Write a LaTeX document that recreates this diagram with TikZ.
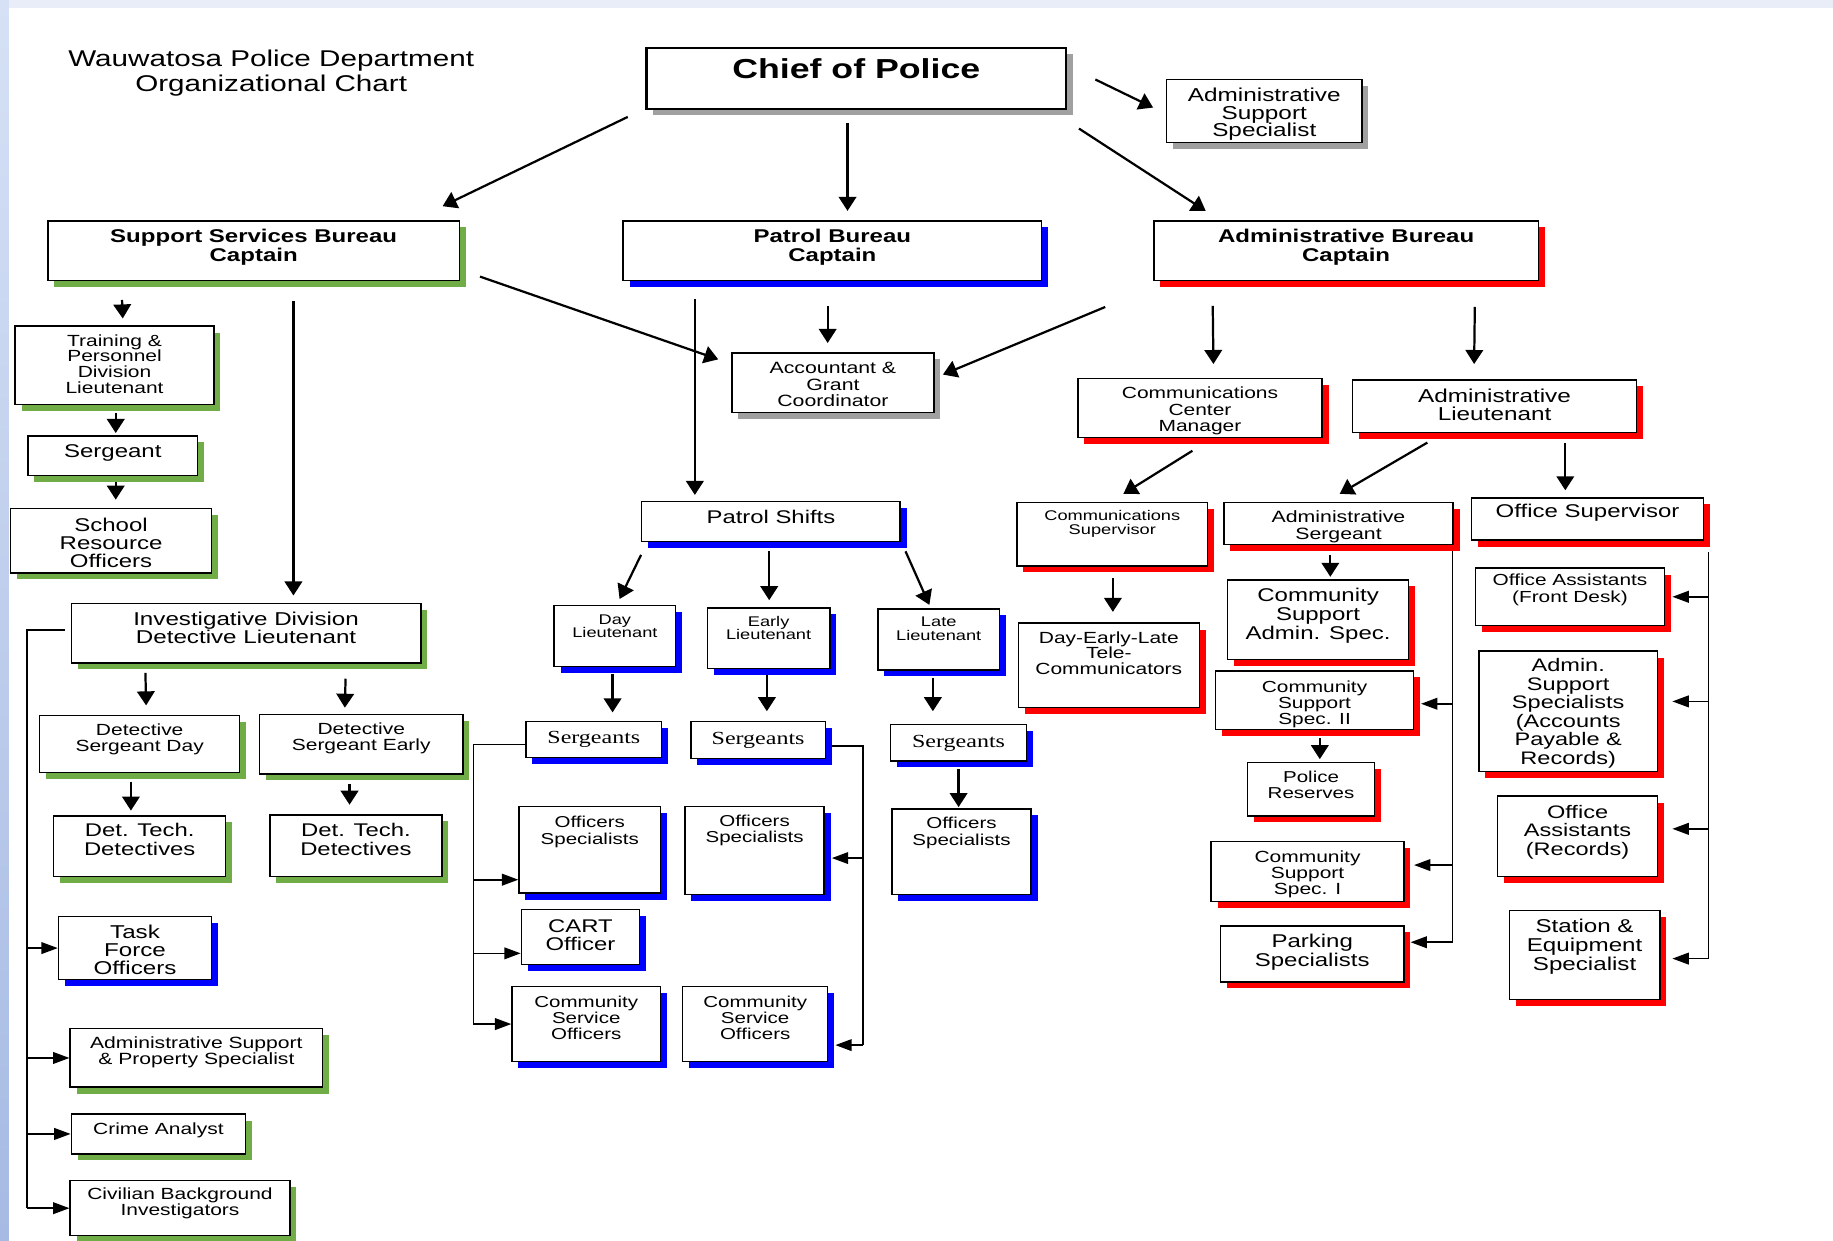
\documentclass[tikz,border=0pt]{standalone}
\usepackage{fontspec}
\setmainfont{Liberation Sans}[FakeStretch=1.3]
\newfontfamily\serw{Liberation Serif}[FakeStretch=1.3]
\usetikzlibrary{arrows.meta,shadows}
\definecolor{shg}{RGB}{112,173,71}
\definecolor{shb}{RGB}{0,0,255}
\definecolor{shr}{RGB}{255,0,0}
\definecolor{shk}{RGB}{160,160,160}
\definecolor{bgtop}{RGB}{232,237,247}
\definecolor{bgla}{RGB}{214,225,245}
\definecolor{bglb}{RGB}{166,186,227}
\tikzset{
 bx/.style={draw=black, line width=1.2pt, fill=white, inner sep=0pt,
   drop shadow={shadow xshift=5.5pt, shadow yshift=-5.5pt, opacity=1, fill=#1}},
 tx/.style={inner sep=0pt, align=center, anchor=north},
 arr/.style={line width=1.9pt, -{Triangle[length=12pt,width=15pt]}},
 barr/.style={line width=1.4pt, -{Triangle[length=14pt,width=10pt]}},
 bus/.style={line width=1.4pt},
}
\newcommand\ob[9]{%
 \node[bx=#6, minimum width={(#4)-(#2)}, minimum height={(#5)-(#3)}] (#1) at ({((#2)+(#4))/2},{((#3)+(#5))/2}) {};
 \node[tx, font=\fontsize#7\selectfont] (#1t) at ({((#2)+(#4))/2},#8) {#9};}
\begin{document}
\begin{tikzpicture}[x=1pt,y=-1pt]
\useasboundingbox (0,0) rectangle (1568,1061);
\fill[white] (0,0) rectangle (1568,1061);
\fill[bgtop] (0,0) rectangle (1568,7);
\shade[top color=bgla, bottom color=bglb] (0,0) rectangle (7.5,1061);

\node[tx, font=\fontsize{19.5}{21}\selectfont] (title) at (232,42.8) {Wauwatosa Police Department\\Organizational Chart};

\node[bx=shk, line width=2pt, minimum width=359, minimum height=52] (chief) at (732.5,67) {};
\node[tx, font=\fontsize{23.5}{24}\selectfont\bfseries] (chieft) at (732.5,50.3) {Chief of Police};

\ob{adss}{998}{68}{1165}{122}{shk}{{16}{15}}{75.1}{Administrative\\Support\\Specialist}
\ob{ssb}{41}{189}{393}{240}{shg}{{15.8}{16}\bfseries}{196.2}{Support Services Bureau\\Captain}
\ob{pb}{533}{189}{891}{240}{shb}{{15.8}{16}\bfseries}{196.2}{Patrol Bureau\\Captain}
\ob{ab}{987}{189}{1316}{240}{shr}{{15.8}{16}\bfseries}{196.2}{Administrative Bureau\\Captain}
\ob{train}{13}{279}{183}{346}{shg}{{13.8}{13.5}}{285.9}{Training \&\\Personnel\\Division\\Lieutenant}
\ob{sgt}{24}{373}{169}{407}{shg}{{15.8}{16}}{380.2}{Sergeant}
\ob{sro}{9}{435}{181}{490}{shg}{{15.8}{15.5}}{443.2}{School\\Resource\\Officers}
\ob{acct}{626}{302}{799}{353}{shk}{{14}{14}}{309.8}{Accountant \&\\Grant\\Coordinator}
\ob{ccm}{922}{324}{1131}{374}{shr}{{13.8}{14}}{330.9}{Communications\\Center\\Manager}
\ob{alt}{1157}{325}{1400}{370}{shr}{{16}{16}}{332.1}{Administrative\\Lieutenant}
\ob{ps}{549}{429}{770}{463}{shb}{{15.7}{16}}{436.2}{Patrol Shifts}
\ob{csup}{870}{430}{1033}{484}{shr}{{12}{12}}{436.6}{Communications\\Supervisor}
\ob{asgt}{1047}{430}{1243}{466}{shr}{{14}{14}}{436.8}{Administrative\\Sergeant}
\ob{osup}{1259}{426}{1457}{462}{shr}{{15.8}{16}}{431.2}{Office Supervisor}
\ob{inv}{61}{516}{360}{567}{shg}{{15.9}{16}}{523.1}{Investigative Division\\Detective Lieutenant}
\ob{dlt}{474}{518}{578}{570}{shb}{{12}{11.5}}{525.6}{Day\\Lieutenant}
\ob{elt}{605}{520}{710}{572}{shb}{{12}{11.5}}{526.6}{Early\\Lieutenant}
\ob{llt}{751}{521}{855}{573}{shb}{{12}{11.5}}{527.6}{Late\\Lieutenant}
\ob{del}{871}{533}{1026}{605}{shr}{{13.8}{13.5}}{539.9}{Day-Early-Late\\Tele-\\Communicators}
\ob{csas}{1050}{496}{1205}{564}{shr}{{15.8}{16}}{503.2}{Community\\Support\\Admin. Spec.}
\ob{oafd}{1262}{486}{1424}{535}{shr}{{13.7}{14}}{490.9}{Office Assistants\\(Front Desk)}
\ob{dsd}{34}{612}{205}{661}{shg}{{13.8}{14}}{618.9}{Detective\\Sergeant Day}
\ob{dse}{222}{611}{396}{662}{shg}{{13.8}{14}}{617.9}{Detective\\Sergeant Early}
\ob{sgd}{450}{617}{566}{648}{shb}{{15.8}{16}\serw}{625.5}{Sergeants}
\ob{sge}{591}{617}{706}{649}{shb}{{15.8}{16}\serw}{626.5}{Sergeants}
\ob{sgl}{762}{620}{878}{651}{shb}{{15.8}{16}\serw}{628.5}{Sergeants}
\ob{css2}{1040}{574}{1209}{624}{shr}{{13.7}{14}}{581.9}{Community\\Support\\Spec. II}
\ob{ass}{1265}{557}{1418}{660}{shr}{{15.5}{15.8}}{563.3}{Admin.\\Support\\Specialists\\(Accounts\\Payable \&\\Records)}
\ob{pr}{1067}{652}{1176}{698}{shr}{{13.5}{14}}{659}{Police\\Reserves}
\ob{dt1}{46}{698}{193}{750}{shg}{{15.7}{16}}{704.2}{Det. Tech.\\Detectives}
\ob{dt2}{231}{697}{378}{750}{shg}{{15.7}{16}}{704.2}{Det. Tech.\\Detectives}
\ob{osd}{444}{690}{565}{764}{shb}{{13.5}{14}}{698}{Officers\\Specialists}
\ob{ose}{586}{690}{705}{765}{shb}{{13.5}{14}}{697}{Officers\\Specialists}
\ob{osl}{763}{692}{882}{765}{shb}{{13.5}{14}}{699}{Officers\\Specialists}
\ob{oar}{1281}{681}{1418}{750}{shr}{{15.5}{16}}{688.3}{Office\\Assistants\\(Records)}
\ob{css1}{1036}{720}{1201}{771}{shr}{{13.8}{13.5}}{727.9}{Community\\Support\\Spec. I}
\ob{tf}{50}{784}{181}{838}{shb}{{15.9}{15.5}}{791.1}{Task\\Force\\Officers}
\ob{cart}{446}{778}{547}{825}{shb}{{15.7}{16}}{786.2}{CART\\Officer}
\ob{park}{1044}{792}{1201}{840}{shr}{{15.8}{16}}{799.2}{Parking\\Specialists}
\ob{sta}{1291}{779}{1420}{855}{shr}{{15.9}{16}}{786.1}{Station \&\\Equipment\\Specialist}
\ob{csod}{438}{844}{565}{908}{shb}{{13.5}{13.5}}{852}{Community\\Service\\Officers}
\ob{csoe}{584}{844}{708}{908}{shb}{{13.5}{13.5}}{852}{Community\\Service\\Officers}
\ob{asps}{60}{880}{276}{930}{shg}{{13.9}{13.5}}{886.9}{Administrative Support\\\& Property Specialist}
\ob{crime}{61}{953}{210}{987}{shg}{{13.8}{14}}{959.9}{Crime Analyst}
\ob{civ}{60}{1010}{248}{1057}{shg}{{13.8}{14}}{1015.9}{Civilian Background\\Investigators}

% straight connectors
\draw[arr] ([shift={(-15,6)}]chief.south west) -- ([shift={(-15,-12)}]ssb.north east);
\draw[arr] ([shift={(-7.5,11)}]chief.south) -- ([shift={(13,-8)}]pb.north);
\draw[arr] ([shift={(10,16)}]chief.south east) -- ([shift={(45,-8)}]ab.north west);
\draw[arr] ([shift={(24,1)}]chief.east) -- ([shift={(-11,-3)}]adss.west);
\draw[arr] ([shift={(17,-4)}]ssb.south east) -- ([shift={(-11,6)}]acct.north west);
\draw[arr] ([shift={(-41,22)}]ab.south west) -- ([shift={(7,19)}]acct.north east);
\draw[arr] ([shift={(-4,21)}]pb.south) -- ([shift={(-4.5,-8)}]acct.north);
\draw[arr] ([shift={(62,15)}]pb.south west) -- ([shift={(46,-5)}]ps.north west);
\draw[arr] ([shift={(64,16)}]ssb.south west) -- ([shift={(7,-6)}]train.north);
\draw[arr] ([shift={(34,17)}]ssb.south) -- ([shift={(40.5,-6)}]inv.north);
\draw[arr] ([shift={(1,7)}]train.south) -- ([shift={(2.5,-2)}]sgt.north);
\draw[arr] ([shift={(2.5,5)}]sgt.south) -- ([shift={(4,-7)}]sro.north);
\draw[arr] ([shift={(51,21)}]ab.south west) -- ([shift={(11.5,-12)}]ccm.north);
\draw[arr] ([shift={(-55,22)}]ab.south east) -- ([shift={(-17.5,-13)}]alt.north);
\draw[arr] ([shift={(-6.5,11)}]ccm.south) -- ([shift={(9.5,-7)}]csup.north);
\draw[arr] ([shift={(-57.5,8)}]alt.south) -- ([shift={(1,-7)}]asgt.north);
\draw[arr] ([shift={(60.5,8)}]alt.south) -- ([shift={(-19,-6)}]osup.north);
\draw[arr] ([shift={(0.5,10)}]csup.south) -- ([shift={(3.5,-9)}]del.north);
\draw[arr] ([shift={(-7,8)}]asgt.south) -- ([shift={(10.5,-2)}]csas.north);
\draw[arr] ([shift={(0,11)}]ps.south west) -- ([shift={(4,-5)}]dlt.north);
\draw[arr] ([shift={(-1.5,8)}]ps.south) -- ([shift={(0.5,-6)}]elt.north);
\draw[arr] ([shift={(4,8)}]ps.south east) -- ([shift={(-8,-3)}]llt.north);
\draw[arr] ([shift={(-2,6)}]dlt.south) -- ([shift={(16,-7)}]sgd.north);
\draw[arr] ([shift={(-1.5,5)}]elt.south) -- ([shift={(7.5,-8)}]sge.north);
\draw[arr] ([shift={(-5,6)}]llt.south) -- ([shift={(-22,-11)}]sgl.north);
\draw[arr] ([shift={(0,6)}]sgl.south) -- ([shift={(-2.5,-1)}]osl.north);
\draw[arr] ([shift={(64,8)}]inv.south west) -- ([shift={(5.5,-8)}]dsd.north);
\draw[arr] ([shift={(-65,13)}]inv.south east) -- ([shift={(-14,-5)}]dse.north);
\draw[arr] ([shift={(-7.5,7)}]dsd.south) -- ([shift={(-7.5,-4)}]dt1.north);
\draw[arr] ([shift={(-10,8)}]dse.south) -- ([shift={(-5.5,-8)}]dt2.north);
\draw[arr] ([shift={(4.5,7)}]css2.south) -- ([shift={(7.5,-2)}]pr.north);

% investigative bus
\coordinate (ib) at (23,539);
\draw[bus] ([shift={(-5,-2.5)}]inv.west) -- (ib) -- (ib |- civ.west);
\draw[barr] (ib |- tf.west) -- (tf.west);
\draw[barr] (ib |- asps.west) -- (asps.west);
\draw[barr] (ib |- crime.west) -- (crime.west);
\draw[barr] (ib |- civ.west) -- (civ.west);

% day sergeants bus
\coordinate (db) at (405,637);
\coordinate (osdin) at ([yshift=-25.5pt]osd.west);
\coordinate (cartin) at ([yshift=-14pt]cart.west);
\draw[bus] ([yshift=-4.5pt]sgd.west) -- (db) -- (db |- csod.west);
\draw[barr] (db |- osdin) -- (osdin);
\draw[barr] (db |- cartin) -- (cartin);
\draw[barr] (db |- csod.west) -- (csod.west);

% early sergeants bus
\coordinate (eb) at (738,638);
\coordinate (osein) at ([shift={(6,6.5)}]ose.east);
\coordinate (csoein) at ([shift={(6,18)}]csoe.east);
\draw[bus] ([shift={(5,5)}]sge.east) -- (eb) -- (eb |- csoein);
\draw[barr] (eb |- osein) -- (osein);
\draw[barr] (eb |- csoein) -- (csoein);

% administrative sergeant bus
\coordinate (ab1) at ([shift={(-1,5)}]asgt.south east);
\coordinate (css2in) at ([shift={(6,3)}]css2.east);
\coordinate (css1in) at ([shift={(8,-5.5)}]css1.east);
\coordinate (parkin) at ([shift={(5,-10)}]park.east);
\draw[bus] (ab1) -- (ab1 |- parkin);
\draw[barr] (ab1 |- css2in) -- (css2in);
\draw[barr] (ab1 |- css1in) -- (css1in);
\draw[barr] (ab1 |- parkin) -- (parkin);

% office supervisor bus
\coordinate (os1) at ([shift={(4,10)}]osup.south east);
\coordinate (oafdin) at ([shift={(6,0)}]oafd.east);
\coordinate (assin) at ([shift={(12,-8.5)}]ass.east);
\coordinate (oarin) at ([shift={(12,-6.5)}]oar.east);
\coordinate (stain) at ([shift={(10,3)}]sta.east);
\draw[bus] (os1) -- (os1 |- stain);
\draw[barr] (os1 |- oafdin) -- (oafdin);
\draw[barr] (os1 |- assin) -- (assin);
\draw[barr] (os1 |- oarin) -- (oarin);
\draw[barr] (os1 |- stain) -- (stain);
\end{tikzpicture}
\end{document}
